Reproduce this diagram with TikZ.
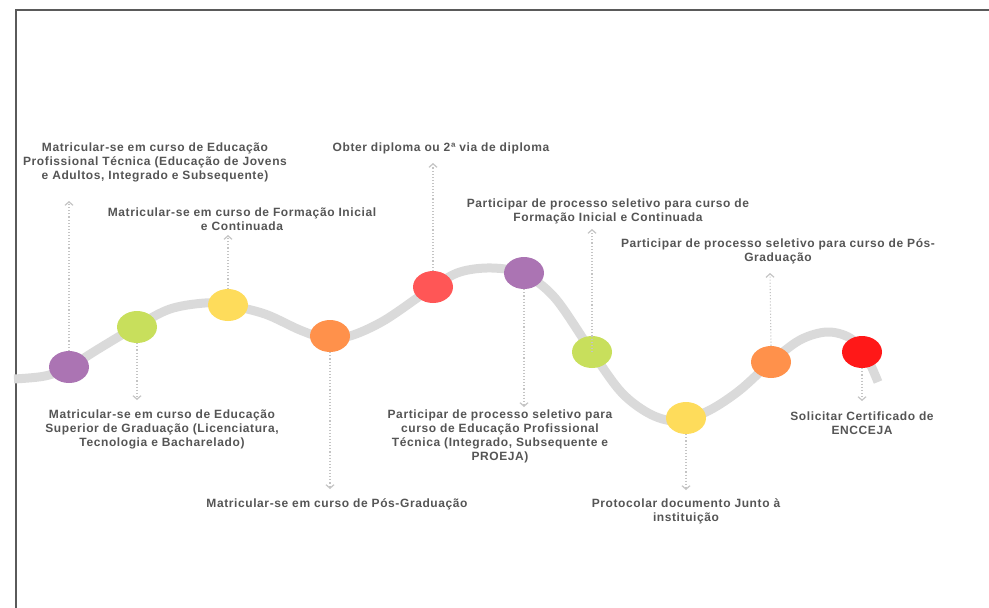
\documentclass[tikz,border=0pt]{standalone}
\usepackage{fontspec}
\setmainfont{Liberation Sans}[LetterSpace=5]
\usetikzlibrary{shapes.geometric,arrows.meta}
\definecolor{txtgray}{HTML}{555555}
\definecolor{wavegray}{HTML}{DADADA}
\definecolor{dotgray}{HTML}{C4C4C4}
\definecolor{framegray}{HTML}{5A5A5A}
\definecolor{cpurple}{HTML}{AB74B3}
\definecolor{clime}{HTML}{C8DF5C}
\definecolor{cyellow}{HTML}{FEDC5B}
\definecolor{corange}{HTML}{FF914B}
\definecolor{csalmon}{HTML}{FF5656}
\definecolor{cred}{HTML}{FF1818}
\tikzset{
  dotnode/.style={ellipse, minimum width=40pt, minimum height=32pt, inner sep=0pt, draw=none},
  conn/.style={dotgray, line width=1.1pt, dotted, -{Straight Barb[length=3.5pt,width=8pt,line width=1.2pt]}},
  lbl/.style={text=txtgray, align=center, font=\fontsize{12}{13.8}\selectfont\bfseries, inner sep=0pt},
  wave/.style={wavegray, line width=9pt}
}
\begin{document}
\begin{tikzpicture}[x=1pt,y=-1pt]
\useasboundingbox (0,0) rectangle (989,608);
\draw[framegray, line width=2pt] (15.5,608) -- (15.5,9.5) -- (989,9.5);
% wave
\draw[wave] plot[smooth, tension=0.55] coordinates {(14,379) (45,376) (69,367) (100,348) (137,326) (170,309) (205,303) (228,305) (265,314) (300,330) (325,338) (350,336) (385,320) (433,287) (460,272) (492,268) (524,274) (555,298) (592,352) (622,393) (652,415) (680,421) (710,410) (740,390) (771,362) (800,340) (827,332) (850,338) (866,356) (878,382)};
% circles
\node[dotnode, fill=cpurple] (c1) at (69,367) {};
\node[dotnode, fill=clime] (c2) at (137,327) {};
\node[dotnode, fill=cyellow] (c3) at (228,305) {};
\node[dotnode, fill=corange] (c4) at (330,336) {};
\node[dotnode, fill=csalmon] (c5) at (433,287) {};
\node[dotnode, fill=cpurple] (c6) at (524,273) {};
\node[dotnode, fill=clime] (c7) at (592,352) {};
\node[dotnode, fill=cyellow] (c8) at (686,418) {};
\node[dotnode, fill=corange] (c9) at (771,362) {};
\node[dotnode, fill=cred] (c10) at (862,352) {};
% arrow ends
\coordinate (a1) at (69,201);
\coordinate (a2) at (137,400);
\coordinate (a3) at (228,235);
\coordinate (a4) at (330,489);
\coordinate (a5) at (433,163);
\coordinate (a6) at (524,407);
\coordinate (a7) at (592,229);
\coordinate (a8) at (686,490);
\coordinate (a9) at (770,273);
\coordinate (a10) at (862,401);
\draw[conn] (c1.north) -- (a1);
\draw[conn] (c2.south) -- (a2);
\draw[conn] (c3.north) -- (a3);
\draw[conn] (c4.south) -- (a4);
\draw[conn] (c5.north) -- (a5);
\draw[conn] (c6.south) -- (a6);
\draw[conn] (c7.center) -- (a7);
\draw[conn] (c8.south) -- (a8);
\draw[conn] (c9.north) -- (a9);
\draw[conn] (c10.south) -- (a10);
% labels
\node[lbl] (t1) at (155,162.5) {Matricular-se em curso de Educação\\Profissional Técnica (Educação de Jovens\\e Adultos, Integrado e Subsequente)};
\node[lbl] (t2) at (242,219.5) {Matricular-se em curso de Formação Inicial\\e Continuada};
\node[lbl] (t3) at (441,148.5) {Obter diploma ou 2ª via de diploma};
\node[lbl] (t4) at (608,211.5) {Participar de processo seletivo para curso de\\Formação Inicial e Continuada};
\node[lbl] (t5) at (778,251) {Participar de processo seletivo para curso de Pós-\\Graduação};
\node[lbl] (t6) at (162,429.2) {Matricular-se em curso de Educação\\Superior de Graduação (Licenciatura,\\Tecnologia e Bacharelado)};
\node[lbl] (t7) at (337,504) {Matricular-se em curso de Pós-Graduação};
\node[lbl] (t8) at (500,436.2) {Participar de processo seletivo para\\curso de Educação Profissional\\Técnica (Integrado, Subsequente e\\PROEJA)};
\node[lbl] (t9) at (686,511) {Protocolar documento Junto à\\instituição};
\node[lbl] (t10) at (862,423.5) {Solicitar Certificado de\\ENCCEJA};
\end{tikzpicture}
\end{document}
